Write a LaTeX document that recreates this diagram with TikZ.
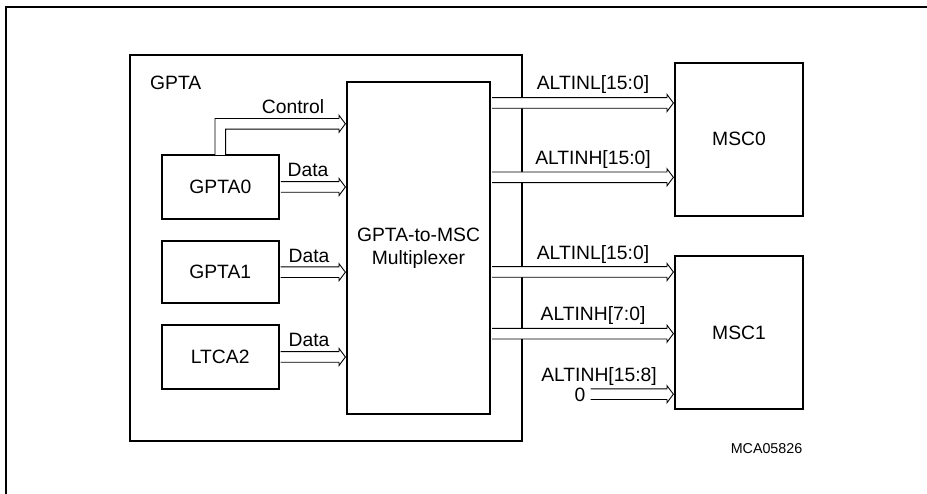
\documentclass[tikz,border=0pt]{standalone}
\usepackage{fontspec}
\setmainfont{Liberation Sans}
\usetikzlibrary{calc}
\newcommand{\busarrow}[2]{%
  \path[draw=black,line width=0.9pt,fill=white] let \p1=#1, \p2=#2 in
    (\x1+1pt,\y1+5.3pt) -- (\x2-7pt,\y1+5.3pt) -- (\x2-7pt,\y1+8.5pt) -- (\x2-0.6pt,\y1)
    -- (\x2-7pt,\y1-8.5pt) -- (\x2-7pt,\y1-5.3pt) -- (\x1+1pt,\y1-5.3pt);}
\begin{document}
\begin{tikzpicture}[x=1pt,y=-1pt,
  every node/.style={font=\fontsize{19.3pt}{23pt}\selectfont},
  blk/.style={draw=black,line width=2pt,rectangle,inner sep=0pt},
  lbl/.style={anchor=base,inner sep=0pt},
  ]
\useasboundingbox (0,0) rectangle (927,494);
% outer frame
\coordinate (fr1) at (927,7);
\coordinate (fr2) at (6,7);
\coordinate (fr3) at (6,494);
\draw[line width=1.3pt] (fr1) -- (fr2) -- (fr3);
% boxes
\node[blk,minimum width=392pt,minimum height=386pt] (gpta) at (326,248) {};
\node[anchor=base west,inner sep=0pt] (gptalbl) at (150,90) {GPTA};
\node[blk,minimum width=143pt,minimum height=332pt,align=center] (mux) at (418.5,248) {GPTA-to-MSC\\Multiplexer};
\node[blk,minimum width=117pt,minimum height=64pt] (g0) at (220.3,187) {GPTA0};
\node[blk,minimum width=117pt,minimum height=62.5pt] (g1) at (220.2,272.2) {GPTA1};
\node[blk,minimum width=117pt,minimum height=64pt] (l2) at (220.2,357) {LTCA2};
\node[blk,minimum width=128pt,minimum height=153.3pt] (msc0) at (739,139.3) {MSC0};
\node[blk,minimum width=128pt,minimum height=153.3pt] (msc1) at (739,332.7) {MSC1};
% control bus
\path[draw=black,line width=0.9pt,fill=white] let \p1=(g0.north), \p2=(mux.west |- 0,123.8) in
  (\x1-5.3pt,\y1-1pt) -- (\x1-5.3pt,\y2+5.3pt) -- (\x2-7pt,\y2+5.3pt) -- (\x2-7pt,\y2+8.5pt)
  -- (\x2-0.6pt,\y2) -- (\x2-7pt,\y2-8.5pt) -- (\x2-7pt,\y2-5.3pt) -- (\x1+5.3pt,\y2-5.3pt)
  -- (\x1+5.3pt,\y1-1pt);
\node[lbl] (lc) at (293,113.5) {Control};
% data buses
\busarrow{(g0.east)}{(mux.west |- g0.east)}
\node[lbl] (ld0) at (308,177) {Data};
\busarrow{(g1.east)}{(mux.west |- g1.east)}
\node[lbl] (ld1) at (309,262.7) {Data};
\busarrow{(l2.east)}{(mux.west |- l2.east)}
\node[lbl] (ld2) at (309,347) {Data};
% outputs
\busarrow{(mux.east |- 0,103)}{(msc0.west |- 0,103)}
\node[lbl] (la1) at (593,89.7) {ALTINL[15:0]};
\busarrow{(mux.east |- 0,177.3)}{(msc0.west |- 0,177.3)}
\node[lbl] (la2) at (593,164.3) {ALTINH[15:0]};
\busarrow{(mux.east |- 0,272)}{(msc1.west |- 0,272)}
\node[lbl] (la3) at (593,259.3) {ALTINL[15:0]};
\busarrow{(mux.east |- 0,333.7)}{(msc1.west |- 0,333.7)}
\node[lbl] (la4) at (593,321) {ALTINH[7:0]};
\node[lbl] (la5) at (599,382) {ALTINH[15:8]};
\node[lbl] (zero) at (580,402) {0};
\coordinate (zs) at (589.7,394.2);
\busarrow{(zs)}{(msc1.west |- zs)}
\node[anchor=base east,inner sep=0pt,font=\fontsize{14.3pt}{17pt}\selectfont] (id) at (802.5,453.4) {MCA05826};
\end{tikzpicture}
\end{document}
